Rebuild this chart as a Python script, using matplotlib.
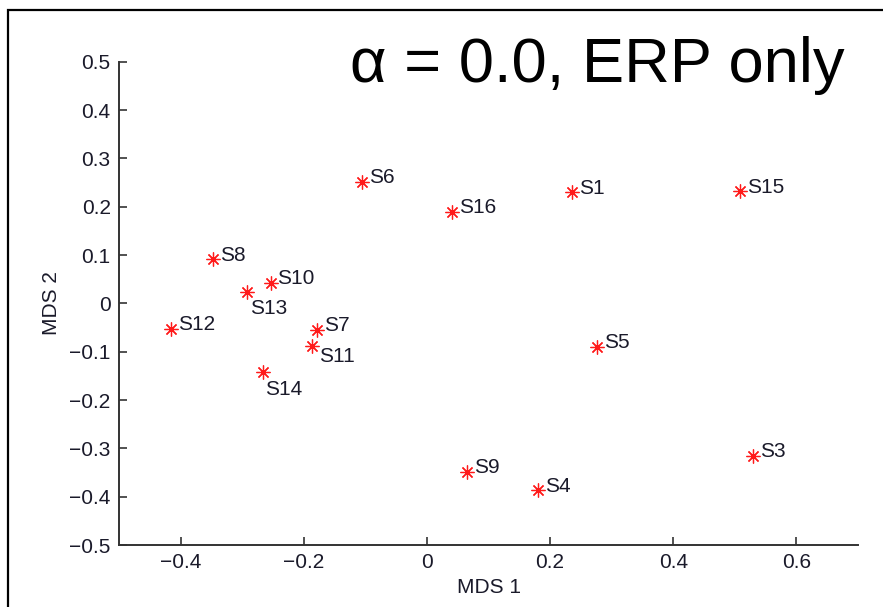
import matplotlib
matplotlib.use("Agg")
import matplotlib.pyplot as plt
from matplotlib.patches import Rectangle

plt.rcParams['font.family'] = ['Liberation Sans', 'DejaVu Sans']

# MDS embedding of the 16 subjects
names = ['S1', 'S3', 'S4', 'S5', 'S6', 'S7', 'S8', 'S9', 'S10',
         'S11', 'S12', 'S13', 'S14', 'S15', 'S16']
mds1 = [0.236, 0.530, 0.180, 0.276, -0.106, -0.179, -0.348, 0.065, -0.254,
        -0.186, -0.416, -0.292, -0.267, 0.509, 0.041]
mds2 = [0.230, -0.315, -0.387, -0.090, 0.251, -0.055, 0.091, -0.348, 0.043,
        -0.089, -0.053, 0.024, -0.141, 0.232, 0.189]

# label offsets in points (most sit up-right, a few below)
offsets = {'S13': (2, -12), 'S11': (4.5, -7), 'S14': (2, -13)}

xticks = [-0.4, -0.2, 0, 0.2, 0.4, 0.6]
yticks = [-0.5, -0.4, -0.3, -0.2, -0.1, 0, 0.1, 0.2, 0.3, 0.4, 0.5]

fs = 15
txt = '#1a1a2a'

fig = plt.figure(figsize=(8.83, 6.07), dpi=100)
ax = fig.add_axes([0.1348, 0.1021, 0.8369, 0.7963])

ax.plot(mds1, mds2, linestyle='none', marker=(8, 2, 0), markersize=10,
        markeredgewidth=0.9, color='#ff1a1a')

for n, x, y in zip(names, mds1, mds2):
    dx, dy = offsets.get(n, (5, 3))
    ax.annotate(n, (x, y), xytext=(dx, dy), textcoords='offset points',
                ha='left', va='center', fontsize=fs, color=txt)

ax.set_xlim(-0.5, 0.7)
ax.set_ylim(-0.5, 0.5)
ax.set_xticks(xticks)
ax.set_xticklabels(['\u22120.4', '\u22120.2', '0', '0.2', '0.4', '0.6'])
ax.set_yticks(yticks)
ax.set_yticklabels([('\u2212' if v < 0 else '') + ('0' if v == 0 else f'{abs(v):.1f}')
                    for v in yticks])
ax.tick_params(direction='in', length=6, width=1.2, labelsize=fs,
               colors='#333333', labelcolor=txt, pad=6)

for s in ('top', 'right'):
    ax.spines[s].set_visible(False)
for s in ('left', 'bottom'):
    ax.spines[s].set_linewidth(1.4)
    ax.spines[s].set_color('#333333')

ax.set_xlabel('MDS 1', fontsize=fs, color=txt, labelpad=4)
ax.set_ylabel('MDS 2', fontsize=fs, color=txt, labelpad=6)

ax.text(0.982, 0.958, '\u03b1 = 0.0, ERP only', transform=ax.transAxes,
        ha='right', va='baseline', fontsize=45.5, color='black', clip_on=False)

# frame around the whole figure
fig.patches.append(Rectangle((8 / 883, -0.05), 1.0, 1 - 10 / 607 + 0.05,
                             transform=fig.transFigure, fill=False,
                             edgecolor='black', linewidth=1.6))

fig.savefig('out.png', dpi=100)
